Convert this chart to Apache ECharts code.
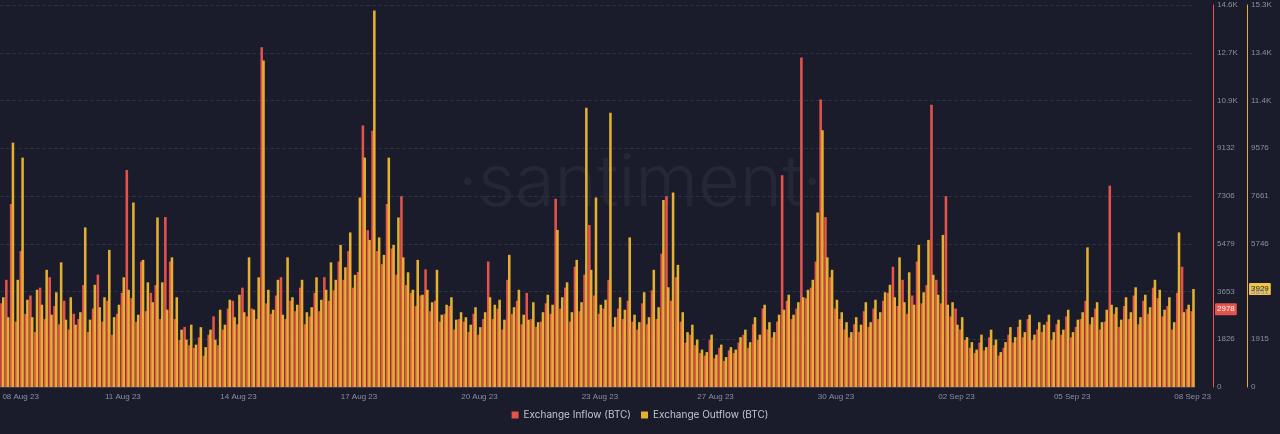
<!DOCTYPE html>
<html>
<head>
<meta charset="utf-8">
<script src="https://cdn.jsdelivr.net/npm/echarts@6/dist/echarts.min.js"></script>
<style>
  html, body { margin: 0; padding: 0; background: #1a1c2b; }
  #chart { width: 1280px; height: 434px; }
</style>
</head>
<body>
<div id="chart"></div>
<script>
// 3-hourly buckets, 08 Aug 23 -> 08 Sep 23
const inflow = [
  3200,4100,7000,2500,5200,2800,3500,2100,
  3800,2600,4200,3100,2400,3300,2200,2800,
  2600,3900,2100,3000,4300,2500,3300,2000,
  2800,3600,8300,3400,2500,4800,2900,3600,
  3900,2600,6500,4800,2600,1800,2300,1600,
  1500,1900,1200,2000,2700,1600,2200,3000,
  3300,2400,3800,2700,3000,2600,13000,3200,
  2800,3500,4200,2600,3300,2900,3800,2400,
  2700,3600,2900,4200,3300,3700,4800,4100,
  5200,3800,4400,10000,6000,9800,5200,4700,
  7000,5300,4300,7300,3900,3600,3100,3500,
  4500,2900,3300,2500,2800,3100,2200,2600,
  2500,2100,2800,2000,2600,4800,2600,3000,
  2200,4100,2800,3300,2400,3600,2600,2300,
  2500,3200,2800,7200,3000,3800,2500,4600,
  2900,4300,6200,3500,2800,3000,4100,2300,
  3000,2600,3300,2500,2200,3200,2400,3700,
  2600,5100,7300,3300,4200,2500,1700,2000,
  1600,1300,1200,1800,1100,1500,1000,1400,
  1300,1700,2000,1500,2400,1800,3000,2200,
  1900,2500,8100,3300,2600,3000,12600,3400,
  3800,4800,11000,6500,4200,3000,2600,2200,
  1900,2400,2100,2900,2300,3000,2600,3300,
  3600,4600,3100,4100,2800,3500,4800,3200,
  3900,10800,4100,3200,7300,2700,3000,2200,
  1800,1500,1300,1700,1400,1900,1600,1200,
  1500,2000,1700,2300,1900,2600,1800,2200,
  2100,2500,1800,2400,2000,2700,1900,2300,
  2600,3300,2400,3000,2200,2500,7700,2800,
  2300,3100,2600,3500,2400,3300,2800,3800,
  3400,2700,3100,2200,3600,4600,2978,2900
];
const outflow = [
  3600,2800,9800,4300,9200,3500,2800,3900,
  3300,4700,2900,3800,5000,2700,3600,2500,
  3000,6400,2700,4100,3200,3600,5500,2800,
  3300,4400,3900,7400,2900,5100,4200,3400,
  6800,4200,3100,5200,3600,2300,1900,2500,
  1700,2400,1600,2300,1900,3100,2500,3500,
  2800,3700,3000,5200,3100,4400,13100,3900,
  3100,4300,2900,5200,3600,3300,4300,3000,
  3200,4400,3500,3900,5000,4300,5700,4800,
  6200,4500,7600,9200,5900,15100,6000,5300,
  9200,5700,6800,5200,4600,3900,5100,3700,
  3900,3400,4700,2900,3300,3600,2700,3000,
  2800,2500,3200,2400,3000,3600,3300,3500,
  2700,5300,3200,3900,2900,2700,3400,2600,
  3000,3700,3300,6300,3600,4200,3000,5100,
  3400,11200,4700,7600,3300,3500,11000,2800,
  3600,3100,6000,2900,2600,3800,2800,4700,
  3200,7500,4000,7800,4900,3000,2200,2500,
  1900,1500,1400,2100,1300,1700,1200,1600,
  1500,2000,2300,1800,2800,2100,3300,2600,
  2200,2900,3100,3700,2900,3400,3600,3900,
  4300,7000,10300,5200,4700,3500,3000,2600,
  2200,2800,2500,3400,2600,3500,3000,3800,
  4100,3600,5200,3400,4600,3300,5700,3800,
  5900,4500,3700,6100,3300,3400,2500,2800,
  2000,1800,1500,2100,1600,2300,1900,1400,
  1800,2400,2000,2700,2200,2900,2100,2600,
  2500,2900,2200,2700,2300,3100,2200,2700,
  3000,5600,2800,3400,2600,3100,3300,3200,
  2700,3600,3000,4000,2800,3700,3200,4300,
  3900,3100,3600,2600,6200,3000,3300,3929
];
const tickLabels = ['08 Aug 23','11 Aug 23','14 Aug 23','17 Aug 23','20 Aug 23','23 Aug 23',
  '27 Aug 23','30 Aug 23','02 Sep 23','05 Sep 23','08 Sep 23'];

const N = inflow.length;
const cats = inflow.map((v, i) => i);
// label positions spread evenly over the axis
const labelAt = {};
tickLabels.forEach((t, k) => { labelAt[Math.min(N - 1, Math.round(k * (N - 1) / 10))] = t; });

const RED = '#e5534b';
const YEL = '#e3b02f';
const kfmt = v => (Math.floor(v / 100) / 10).toFixed(1) + 'K';
const fmtIn = v => v === 0 ? '0' : (v >= 10000 ? kfmt(v) : String(Math.floor(v)));
const fmtOut = v => v === 0 ? '0' : (v >= 10000 ? kfmt(v) : String(Math.round(v)));

const watermark = {
  type: 'text', left: 'center', top: 148,
  style: { text: '·santiment·', fontSize: 72, fontFamily: 'Inter', fontWeight: 300, fill: 'rgba(255,255,255,0.05)' }
};

const chart = echarts.init(document.getElementById('chart'));
chart.setOption({
  backgroundColor: '#1a1c2b',
  animation: false,
  graphic: [watermark],
  grid: { left: 0, right: 85, top: 5, bottom: 47, containLabel: false, outerBoundsMode: 'none' },
  legend: {
    bottom: 9, left: 'center', itemWidth: 7, itemHeight: 7, icon: 'rect', itemGap: 10,
    textStyle: { color: '#c2c5d0', fontSize: 10, fontFamily: 'Inter' }
  },
  xAxis: {
    type: 'category', data: cats,
    axisLine: { lineStyle: { color: '#3a3d50' } },
    axisTick: { show: false },
    axisLabel: {
      color: '#8a8fa3', fontSize: 8, margin: 6, showMaxLabel: true, alignMinLabel: 'left',
      interval: (i) => labelAt[i] !== undefined,
      formatter: (v, i) => labelAt[i] || ''
    }
  },
  yAxis: [
    {
      type: 'value', position: 'right', offset: 18, min: 0, max: 14612, interval: 1826.5,
      axisLine: { show: true, lineStyle: { color: RED } },
      axisTick: { show: false },
      axisLabel: { color: '#8a8fa3', fontSize: 8, formatter: fmtIn, margin: 4 },
      splitLine: { lineStyle: { color: '#2c2f42', type: 'dashed' } }
    },
    {
      type: 'value', position: 'right', offset: 52, min: 0, max: 15322, interval: 1915.25,
      axisLine: { show: true, lineStyle: { color: YEL } },
      axisTick: { show: false },
      axisLabel: { color: '#8a8fa3', fontSize: 8, formatter: fmtOut, margin: 4 },
      splitLine: { show: false }
    }
  ],
  series: [
    { name: 'Exchange Inflow (BTC)', type: 'bar', data: inflow, yAxisIndex: 0, itemStyle: { color: RED },
      barGap: '-30%', barCategoryGap: '10%' },
    { name: 'Exchange Outflow (BTC)', type: 'bar', data: outflow, yAxisIndex: 1, itemStyle: { color: YEL } }
  ]
});

// last value badges on the axes
const lastIn = inflow[N - 2], lastOut = outflow[N - 1];
const pIn = chart.convertToPixel({ yAxisIndex: 0 }, lastIn);
const pOut = chart.convertToPixel({ yAxisIndex: 1 }, lastOut);
chart.setOption({
  graphic: [watermark, {
    type: 'text', x: 1215, y: pIn - 6,
    style: { text: String(lastIn), fontSize: 8, fill: '#fff', backgroundColor: RED, padding: [2, 2], borderRadius: 1 }
  }, {
    type: 'text', x: 1249, y: pOut - 6,
    style: { text: String(lastOut), fontSize: 8, fill: '#1a1c2b', backgroundColor: '#f3c544', padding: [2, 2], borderRadius: 1 }
  }]
});
</script>
</body>
</html>
